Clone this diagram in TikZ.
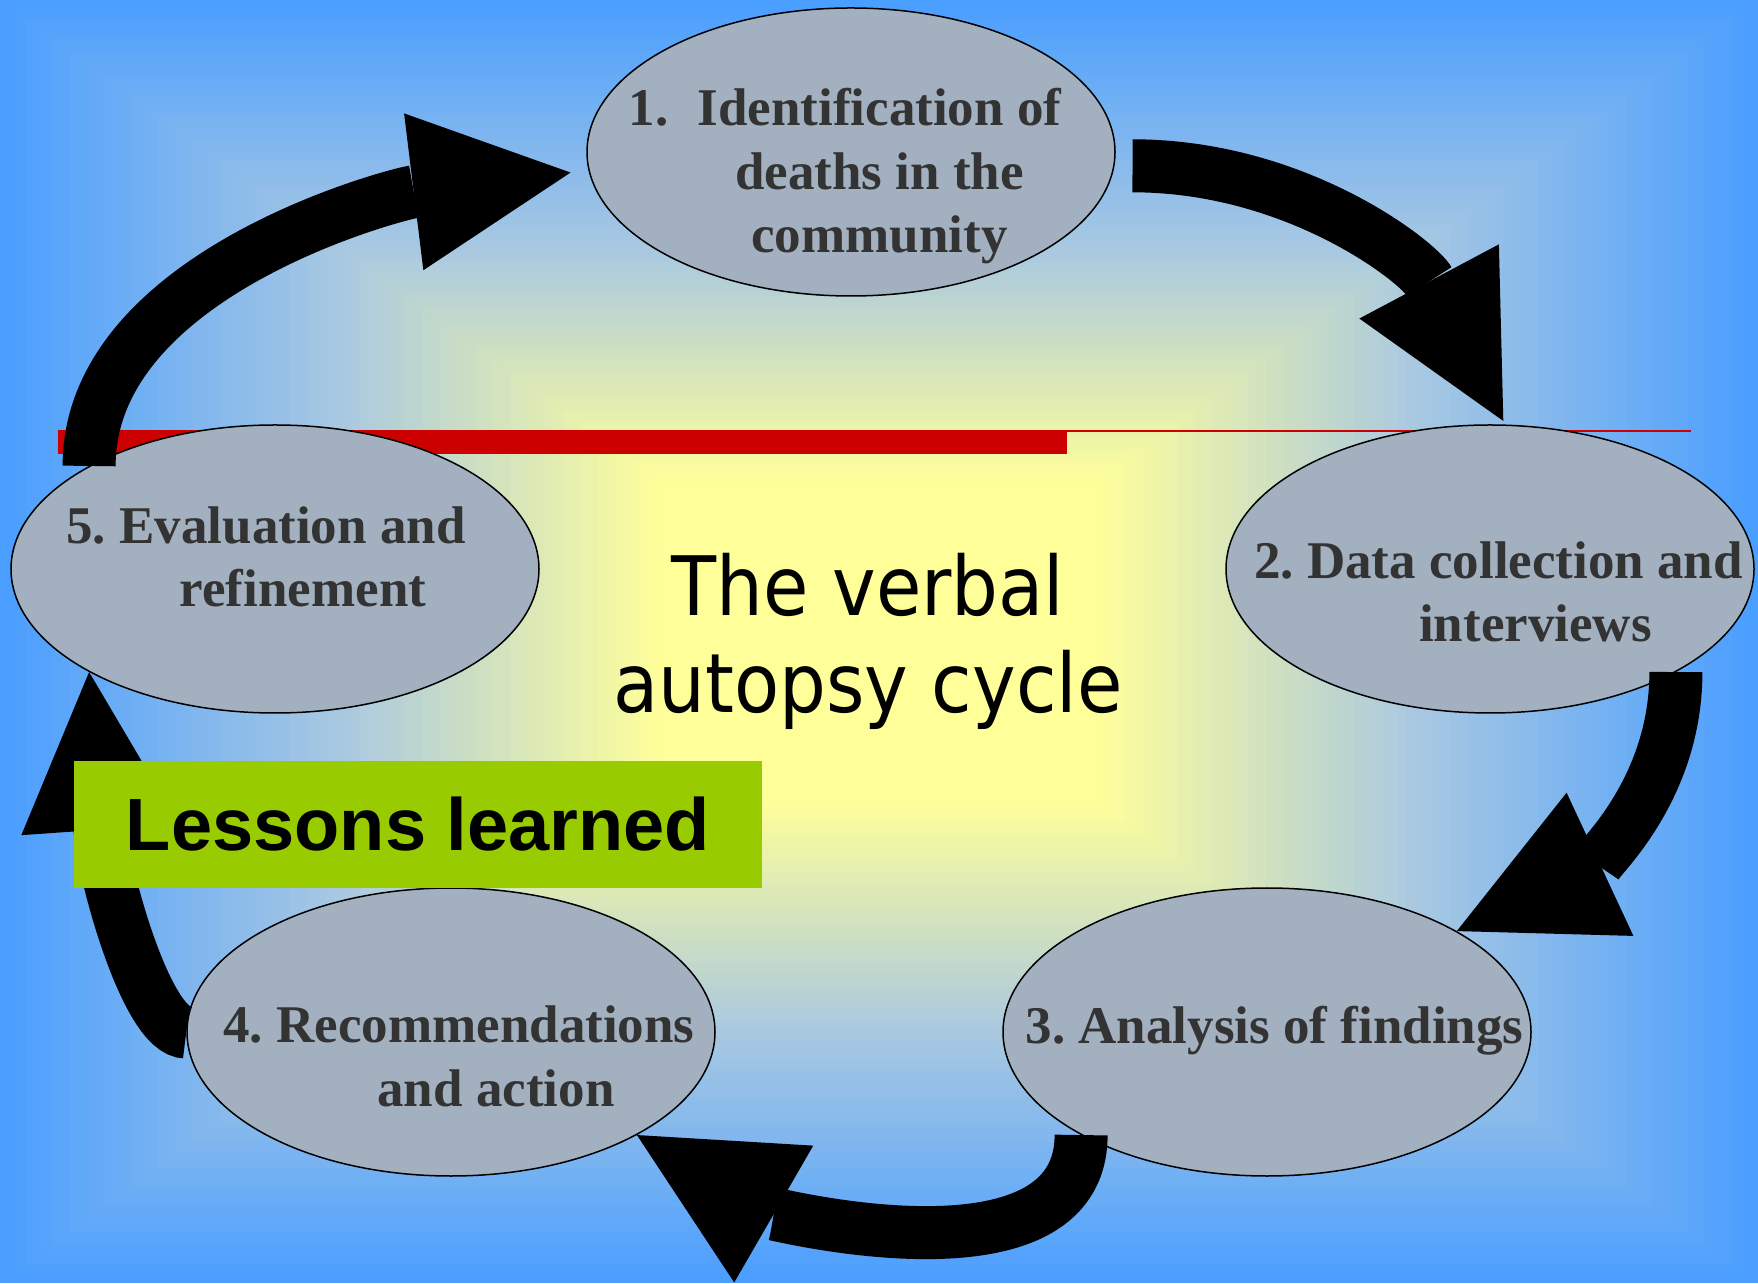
\documentclass[tikz,border=0pt]{standalone}
\usepackage{fontspec}
\setmainfont{Liberation Serif}
\newfontfamily\titlefont{DejaVu Sans}[FakeStretch=0.9]
\newfontfamily\lessonfont{Liberation Sans}
\usetikzlibrary{arrows.meta}
\usetikzlibrary{shapes.geometric}
\frenchspacing

\definecolor{bgblue}{RGB}{74,158,255}
\definecolor{bgmid}{RGB}{168,200,226}
\definecolor{bgyellow}{RGB}{255,255,153}
\definecolor{stagegrey}{RGB}{162,176,192}
\definecolor{stageink}{RGB}{51,51,51}
\definecolor{barred}{RGB}{204,0,0}
\definecolor{lessongreen}{RGB}{153,204,0}

\tikzset{
  stage/.style={ellipse, draw=black, line width=1.5pt, fill=stagegrey,
    minimum width=528pt, minimum height=288pt, inner sep=0pt},
  % base anchor sits on the last line
  stagetext/.style={text=stageink, align=center, anchor=base, inner sep=0pt,
    font=\bfseries\fontsize{53}{63.5}\selectfont},
  titletext/.style={align=center, anchor=base, inner sep=0pt,
    font=\titlefont\fontsize{82}{97}\selectfont},
  cyclearrow/.style={line width=53pt,
    -{Triangle[length=158pt, width=158pt, line width=0pt]}},
  lessonbox/.style={fill=lessongreen, minimum width=688pt, minimum height=127pt,
    inner sep=0pt, font=\lessonfont\bfseries\fontsize{74}{88}\selectfont},
}

\begin{document}
\begin{tikzpicture}[x=1pt, y=1pt]
    \useasboundingbox (0,0) rectangle (1758,1283);
    % background, yellow in the middle going out to blue
    \foreach \i in {0,...,100}{
        \pgfmathsetmacro{\rr}{1-\i/100}
        \pgfmathsetmacro{\pa}{max(0,min(100,(\rr-0.62)/0.38*100))}
        \pgfmathsetmacro{\pb}{max(0,min(100,(\rr-0.25)/0.37*100))}
        \colorlet{bgtmp}{bgmid!\pb!bgyellow}
        \fill[bgblue!\pa!bgtmp] (879-879*\rr,641.5-641.5*\rr) rectangle (879+879*\rr,641.5+641.5*\rr);
    }
    % red rule
    \fill[barred] (58,829) rectangle (1067,853);
    \draw[barred, line width=2pt] (1067,851.5) -- (1691,851.5);

    \node[stage] (e1) at (851,1131) {};
    \node[stage] (e2) at (1490,714)  {};
    \node[stage] (e3) at (1267,251)  {};
    \node[stage] (e4) at (451,251)   {};
    \node[stage] (e5) at (275,714)   {};

    \node[stagetext] (t1) at (879.5,1030) {\llap{1.\hspace{29pt}}Identification of\\deaths in the\\community};
    \node[stagetext] (t2) at (1498.5,641) {2. Data collection and\\\hspace*{74pt}interviews};
    \node[stagetext] (t3) at (1274.5,240) {3. Analysis of findings};
    \node[stagetext] (t4) at (459,177)    {4. Recommendations\\\hspace*{74pt}and action};
    \node[stagetext] (t5) at (266,676)    {5. Evaluation and\\\hspace*{74pt}refinement};

    \path[cyclearrow]
    (e5.151) edge[out=90, in=187, looseness=0.85, shorten >=18pt] (e1.184)
    (e1.357) edge[out=0, in=118, shorten <=18pt, shorten >=4pt] (e2.84)
    (e2.331) edge[out=-90, in=25] (e3.28)
    (e3.209) edge[out=-90, in=-30, looseness=0.9] (e4.331)
    (e4.west) edge[out=180, in=-86, out distance=40pt, in distance=200pt] (e5.209);

    \node[lessonbox] (lessons) at (418,458.5) {Lessons learned};
    \node[titletext] (title) at (868,570) {The verbal\\autopsy cycle};
\end{tikzpicture}
\end{document}
